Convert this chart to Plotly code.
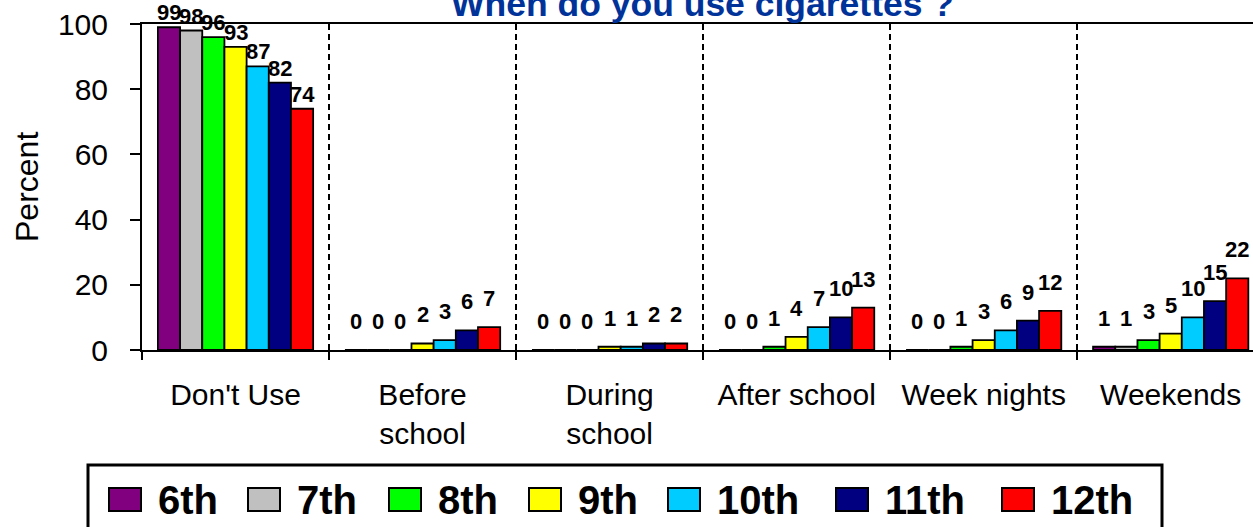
import plotly.graph_objects as go

# Categories along the x axis ("<br>" breaks the longer labels onto two lines)
categories = ["Don't Use", "Before<br>school", "During<br>school",
              "After school", "Week nights", "Weekends"]

grades = ["6th", "7th", "8th", "9th", "10th", "11th", "12th"]

# Percent of students in each grade, per category
pct_6th = [99, 0, 0, 0, 0, 1]
pct_7th = [98, 0, 0, 0, 0, 1]
pct_8th = [96, 0, 0, 1, 1, 3]
pct_9th = [93, 2, 1, 4, 3, 5]
pct_10th = [87, 3, 1, 7, 6, 10]
pct_11th = [82, 6, 2, 10, 9, 15]
pct_12th = [74, 7, 2, 13, 12, 22]

y_ticks = [0, 20, 40, 60, 80, 100]

colors = ["#800080", "#C0C0C0", "#00FF00", "#FFFF00", "#00CCFF", "#000080", "#FF0000"]

series = [pct_6th, pct_7th, pct_8th, pct_9th, pct_10th, pct_11th, pct_12th]

# Figure geometry (pixels)
W, H = 1253, 527
ML, MR, MT, MB = 142, 0, 24, 177
PW, PH = W - ML - MR, H - MT - MB
X_RANGE = [-0.5, 5.44]
BARGAP = 0.17
FONT = "Liberation Sans, Arial, sans-serif"


def px_x(px):
    """Horizontal pixel -> paper coordinate."""
    return (px - ML) / PW


def px_y(py):
    """Vertical pixel (from top) -> paper coordinate."""
    return (H - MB - py) / PH


fig = go.Figure()
for name, vals, col in zip(grades, series, colors):
    fig.add_trace(go.Bar(
        x=categories, y=vals, name=name,
        marker=dict(color=col, line=dict(color="black", width=1.8)),
        showlegend=False,
    ))

# Value labels above each bar
n = len(series)
slot = (1 - BARGAP) / n
annotations = []
for i, vals in enumerate(series):
    offset = -(1 - BARGAP) / 2 + (i + 0.5) * slot
    for j, v in enumerate(vals):
        annotations.append(dict(
            x=j + offset, y=v, xref="x", yref="y",
            text=str(v), showarrow=False,
            xanchor="center", yanchor="bottom",
            yshift=0 if j == 0 else 14,
            font=dict(family=FONT, size=22, color="black", weight="bold"),
        ))

# Title (partly above the top edge of the page)
annotations.append(dict(
    x=px_x(702), y=px_y(26), xref="paper", yref="paper",
    text="When do you use cigarettes ?", showarrow=False,
    xanchor="center", yanchor="bottom",
    font=dict(family=FONT, size=35.5, color="#003399", weight="bold"),
))

# Y axis caption
annotations.append(dict(
    x=px_x(27), y=px_y(187), xref="paper", yref="paper",
    text="Percent", showarrow=False, textangle=-90,
    xanchor="center", yanchor="middle",
    font=dict(family=FONT, size=32, color="black"),
))

# Legend drawn as swatches + labels inside a framed box
legend_left = [109, 248, 389, 529, 668, 836, 1002]
shapes = [dict(
    type="rect", xref="paper", yref="paper",
    x0=px_x(88), x1=px_x(1162), y0=px_y(465), y1=px_y(560),
    line=dict(color="black", width=3), fillcolor="white", layer="above",
)]
for name, col, lx in zip(grades, colors, legend_left):
    shapes.append(dict(
        type="rect", xref="paper", yref="paper",
        x0=px_x(lx), x1=px_x(lx + 32), y0=px_y(488), y1=px_y(511),
        line=dict(color="black", width=2), fillcolor=col, layer="above",
    ))
    annotations.append(dict(
        x=px_x(lx + 47), y=px_y(500), xref="paper", yref="paper",
        text=name, showarrow=False, xanchor="left", yanchor="middle",
        font=dict(family=FONT, size=40, color="black", weight="bold"),
    ))

fig.update_layout(
    width=W, height=H,
    margin=dict(l=ML, r=MR, t=MT, b=MB, autoexpand=False),
    paper_bgcolor="white", plot_bgcolor="white",
    barmode="group", bargap=BARGAP, bargroupgap=0,
    font=dict(family=FONT, color="black"),
    annotations=annotations, shapes=shapes,
)
fig.update_xaxes(
    type="category", range=X_RANGE, tickson="boundaries",
    ticks="outside", ticklen=8, tickwidth=2, tickcolor="black",
    showline=True, linecolor="black", linewidth=2, mirror=True,
    showgrid=True, gridcolor="black", gridwidth=1.5, griddash="6px,4px",
    tickfont=dict(family=FONT, size=30, color="black"),
    ticklabelstandoff=17, automargin=False, fixedrange=True,
)
fig.update_yaxes(
    range=[0, 100], tickvals=y_ticks,
    ticks="outside", ticklen=10, tickwidth=2, tickcolor="black",
    showline=True, linecolor="black", linewidth=2,
    showgrid=False, zeroline=False,
    tickfont=dict(family=FONT, size=30, color="black"),
    ticklabelstandoff=16,
    automargin=False, fixedrange=True,
)

fig.write_html("out.html")
